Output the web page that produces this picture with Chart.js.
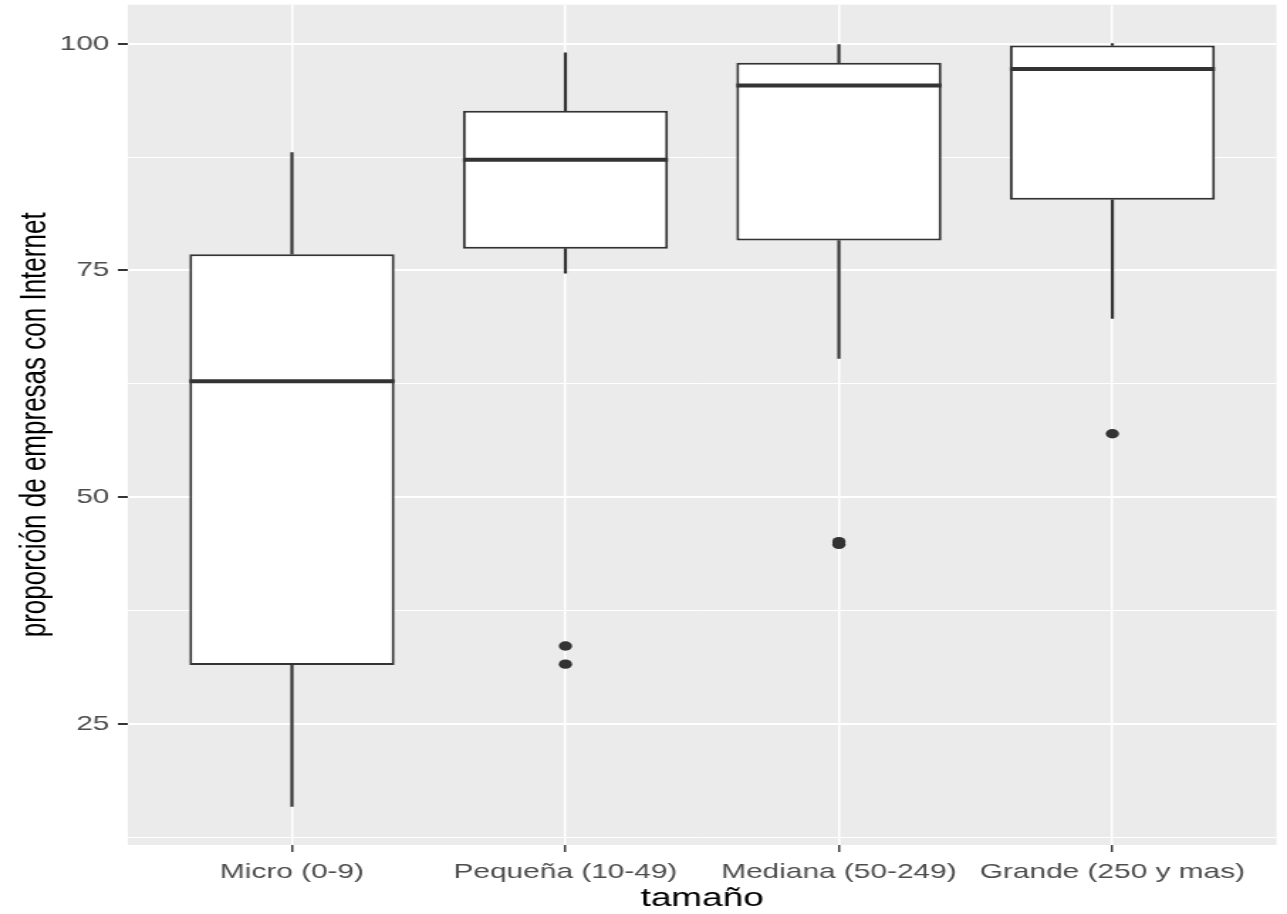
<!DOCTYPE html>
<html>
<head>
<meta charset="utf-8">
<script src="https://cdn.jsdelivr.net/npm/chart.js@4/dist/chart.umd.min.js"></script>
<style>
  html, body { margin: 0; padding: 0; background: #fff; overflow: hidden; }
  /* the reference is stretched horizontally, so draw narrow and widen */
  #wrap { width: 906px; height: 914px; transform: scaleX(1.4205); transform-origin: 0 0; }
</style>
</head>
<body>
<div id="wrap"><canvas id="boxChart"></canvas></div>
<script>
// Data
const categories = ['Micro (0-9)', 'Pequeña (10-49)', 'Mediana (50-249)', 'Grande (250 y mas)'];
const positions = [1, 2, 3, 4];
const whiskerLow = [15.9, 74.7, 65.3, 69.7];
const q1 = [31.5, 77.4, 78.3, 82.8];
const medians = [62.8, 87.2, 95.4, 97.2];
const q3 = [76.8, 92.6, 97.9, 99.8];
const whiskerHigh = [88.0, 99.0, 99.9, 100];
const outlierGroup = [2, 2, 3, 3, 4];
const outlierValues = [33.6, 31.6, 44.8, 45.1, 57.0];
const yTicks = [12.5, 25, 37.5, 50, 62.5, 75, 87.5, 100];

const ink = '#333333';
const fontFamily = "'Liberation Sans', Arial, sans-serif";

const panelBackground = {
    id: 'panelBackground',
    beforeDraw(chart) {
        const ctx = chart.ctx;
        const a = chart.chartArea;
        ctx.save();
        ctx.fillStyle = '#ffffff';
        ctx.fillRect(0, 0, chart.width, chart.height);
        ctx.fillStyle = '#EBEBEB';
        ctx.fillRect(a.left, a.top, a.right - a.left, a.bottom - a.top);
        ctx.restore();
    }
};

const medianLines = {
    id: 'medianLines',
    afterDatasetsDraw(chart) {
        const ctx = chart.ctx;
        const x = chart.scales.x;
        const y = chart.scales.y;
        const half = 0.375 * (x.getPixelForValue(2) - x.getPixelForValue(1));
        ctx.save();
        ctx.strokeStyle = ink;
        ctx.lineWidth = 4;
        medians.forEach((m, i) => {
            const px = x.getPixelForValue(positions[i]);
            const py = y.getPixelForValue(m);
            ctx.beginPath();
            ctx.moveTo(px - half, py);
            ctx.lineTo(px + half, py);
            ctx.stroke();
        });
        ctx.restore();
    }
};

const whiskerStyle = {
    type: 'bar',
    grouped: false,
    barThickness: 1.5,
    backgroundColor: ink,
    borderWidth: 0
};

function noPadding(scale) {
    scale.paddingTop = 0;
    scale.paddingBottom = 0;
    scale.paddingLeft = 0;
    scale.paddingRight = 0;
}

new Chart(document.getElementById('boxChart'), {
    type: 'bar',
    data: {
        datasets: [
            Object.assign({
                data: positions.map((p, i) => ({ x: p, y: [whiskerLow[i], q1[i]] }))
            }, whiskerStyle),
            Object.assign({
                data: positions.map((p, i) => ({ x: p, y: [q3[i], whiskerHigh[i]] }))
            }, whiskerStyle),
            {
                type: 'bar',
                grouped: false,
                data: positions.map((p, i) => ({ x: p, y: [q1[i], q3[i]] })),
                backgroundColor: '#ffffff',
                borderColor: ink,
                borderWidth: 2,
                borderSkipped: false,
                barPercentage: 0.75,
                categoryPercentage: 1.0
            },
            {
                type: 'scatter',
                data: outlierGroup.map((g, i) => ({ x: g, y: outlierValues[i] })),
                pointRadius: 4.7,
                pointBackgroundColor: ink,
                pointBorderWidth: 0
            }
        ]
    },
    options: {
        responsive: true,
        maintainAspectRatio: false,
        animation: false,
        layout: { padding: { left: 0, top: 4, right: 7.4, bottom: 0 } },
        plugins: {
            legend: { display: false },
            tooltip: { enabled: false }
        },
        scales: {
            x: {
                type: 'linear',
                min: 0.4,
                max: 4.6,
                offset: false,
                afterBuildTicks: (scale) => { scale.ticks = positions.map(v => ({ value: v })); },
                afterFit: (scale) => { scale.height = 69; noPadding(scale); },
                border: { display: false },
                grid: { offset: false, color: '#ffffff', lineWidth: 1.5, tickColor: ink, tickLength: 7, tickWidth: 1.4 },
                ticks: {
                    autoSkip: false,
                    maxRotation: 0,
                    minRotation: 0,
                    padding: 8,
                    color: '#4D4D4D',
                    font: { family: fontFamily, size: 21 },
                    callback: (v) => categories[v - 1]
                },
                title: {
                    display: true,
                    text: 'tamaño',
                    color: '#000000',
                    padding: { top: 0, bottom: 0 },
                    font: { family: fontFamily, size: 26 }
                }
            },
            y: {
                min: 11.66,
                max: 104.3,
                afterBuildTicks: (scale) => { scale.ticks = yTicks.map(v => ({ value: v })); },
                afterFit: (scale) => { scale.width = 90; noPadding(scale); },
                border: { display: false },
                grid: {
                    color: '#ffffff',
                    lineWidth: (c) => (c.tick && c.tick.value % 25 === 0 ? 2 : 1),
                    tickColor: (c) => (c.tick && c.tick.value % 25 === 0 ? ink : 'rgba(0,0,0,0)'),
                    tickLength: 7,
                    tickWidth: 2
                },
                ticks: {
                    padding: 6,
                    color: '#4D4D4D',
                    font: { family: fontFamily, size: 21 },
                    callback: (v) => (v % 25 === 0 ? v : '')
                },
                title: {
                    display: true,
                    text: 'proporción de empresas con Internet',
                    color: '#000000',
                    padding: { top: 9, bottom: 0 },
                    font: { family: fontFamily, size: 26 }
                }
            }
        }
    },
    plugins: [panelBackground, medianLines]
});
</script>
</body>
</html>
